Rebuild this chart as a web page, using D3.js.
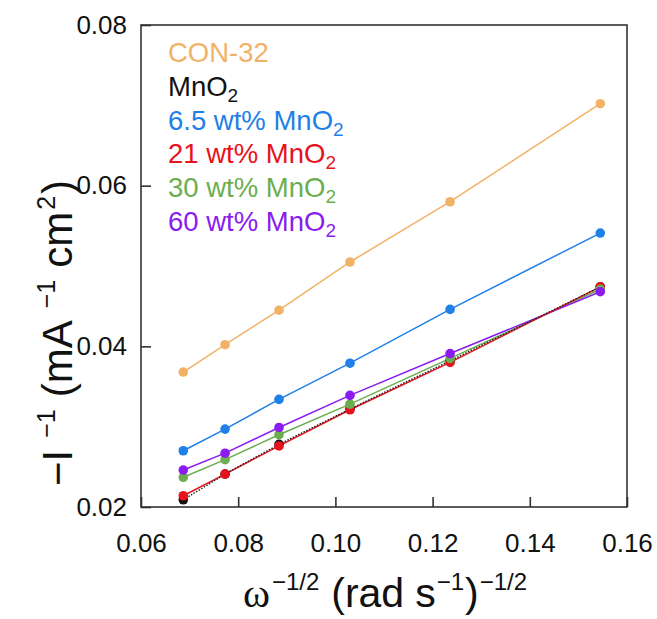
<!DOCTYPE html>
<html><head><meta charset="utf-8">
<script src="https://cdn.jsdelivr.net/npm/d3@7"></script>
<style>html,body{margin:0;padding:0;background:#fff;}svg{display:block;font-family:"Liberation Sans",Arial,sans-serif;}</style>
</head><body>
<svg id="c" width="657" height="619"></svg>
<script>
const xValues = [0.0687, 0.0773, 0.0884, 0.1030, 0.1236, 0.1545];
const seriesNames = ["CON-32", "MnO2", "6.5 wt% MnO2", "21 wt% MnO2", "30 wt% MnO2", "60 wt% MnO2"];
const con32 = [0.0368, 0.0402, 0.0445, 0.0505, 0.0580, 0.0702];
const mno2 = [0.0209, 0.0241, 0.0278, 0.0322, 0.0382, 0.0474];
const wt65 = [0.0270, 0.0297, 0.0334, 0.0379, 0.0446, 0.0541];
const wt21 = [0.0214, 0.0241, 0.0276, 0.0321, 0.0380, 0.0474];
const wt30 = [0.0237, 0.0259, 0.0290, 0.0328, 0.0385, 0.0471];
const wt60 = [0.0246, 0.0267, 0.0299, 0.0339, 0.0391, 0.0468];
const xTicks = [0.06, 0.08, 0.10, 0.12, 0.14, 0.16];
const yTicks = [0.02, 0.04, 0.06, 0.08];
const colors = ["#F2B266", "#111111", "#1F80E8", "#E8121C", "#6BAE4F", "#8A1CF0"];

const svg = d3.select("#c");
const L = 141, R = 627, T = 25, B = 507;
const x = d3.scaleLinear().domain([0.06, 0.16]).range([L, R]);
const y = d3.scaleLinear().domain([0.02, 0.08]).range([B, T]);

svg.append("rect").attr("x", L).attr("y", T).attr("width", R - L).attr("height", B - T)
  .attr("fill", "none").attr("stroke", "#333").attr("stroke-width", 1.6);

const fmt = d3.format(".2f");
const gx = svg.append("g").attr("transform", `translate(0,${B})`)
  .call(d3.axisBottom(x).tickValues(xTicks).tickFormat(fmt).tickSizeInner(-10).tickSizeOuter(0).tickPadding(27));
const gy = svg.append("g").attr("transform", `translate(${L},0)`)
  .call(d3.axisLeft(y).tickValues(yTicks).tickFormat(fmt).tickSizeInner(-10).tickSizeOuter(0).tickPadding(14));
[gx, gy].forEach(g => {
  g.select(".domain").remove();
  g.selectAll("line").attr("stroke", "#333").attr("stroke-width", 1.6);
  g.selectAll("text").attr("font-size", 26).attr("fill", "#111").attr("font-family", '"Liberation Sans",Arial,sans-serif');
});

const allSeries = [con32, mno2, wt65, wt21, wt30, wt60];
const line = d3.line().x((d, i) => x(xValues[i])).y(d => y(d));
[0, 2, 4, 5, 3].forEach(k => {
  svg.append("path").datum(allSeries[k]).attr("d", line)
    .attr("fill", "none").attr("stroke", colors[k]).attr("stroke-width", 1.5);
});
svg.append("path").datum(mno2).attr("d", line)
  .attr("fill", "none").attr("stroke", "#222").attr("stroke-width", 1.4).attr("stroke-dasharray", "1.5,1.5");
[0, 2, 1, 3, 4, 5].forEach(k => {
  svg.append("g").selectAll("circle").data(allSeries[k]).join("circle")
    .attr("cx", (d, i) => x(xValues[i])).attr("cy", d => y(d)).attr("r", 4.8)
    .attr("fill", colors[k]);
});

const legY = [62, 96, 130, 163, 197, 231];
seriesNames.forEach((name, k) => {
  const t = svg.append("text").attr("x", 168).attr("y", legY[k]).attr("font-size", 27.5).attr("fill", colors[k]);
  if (name.endsWith("MnO2")) {
    t.append("tspan").text(name.slice(0, -1));
    t.append("tspan").text("2").attr("font-size", 19).attr("dy", 6);
  } else {
    t.text(name);
  }
});

const yt = svg.append("text").attr("transform", "translate(72,333) rotate(-90)")
  .attr("text-anchor", "middle").attr("font-size", 42).attr("fill", "#111");
yt.append("tspan").text("\u2212I");
yt.append("tspan").text("\u22121").attr("font-size", 25).attr("dy", -17).attr("dx", 12);
yt.append("tspan").text("(mA").attr("dy", 17).attr("dx", 12);
yt.append("tspan").text("\u22121").attr("font-size", 25).attr("dy", -17).attr("dx", 12);
yt.append("tspan").text("cm").attr("dy", 17).attr("dx", 12);
yt.append("tspan").text("2").attr("font-size", 25).attr("dy", -17).attr("dx", 2);
yt.append("tspan").text(")").attr("dy", 17).attr("dx", 2);

const xt = svg.append("text").attr("x", 385).attr("y", 607)
  .attr("text-anchor", "middle").attr("font-size", 41).attr("fill", "#111");
xt.append("tspan").text("\u03c9").attr("font-family", '"Liberation Serif","Times New Roman",serif');
xt.append("tspan").text("\u22121/2").attr("font-size", 24).attr("dy", -17).attr("dx", 2);
xt.append("tspan").text("(rad").attr("dy", 17).attr("dx", 12);
xt.append("tspan").text("s").attr("dx", 11);
xt.append("tspan").text("\u22121").attr("font-size", 24).attr("dy", -17).attr("dx", 1);
xt.append("tspan").text(")").attr("dy", 17).attr("dx", 1);
xt.append("tspan").text("\u22121/2").attr("font-size", 24).attr("dy", -17).attr("dx", 1);
</script>
</body></html>
